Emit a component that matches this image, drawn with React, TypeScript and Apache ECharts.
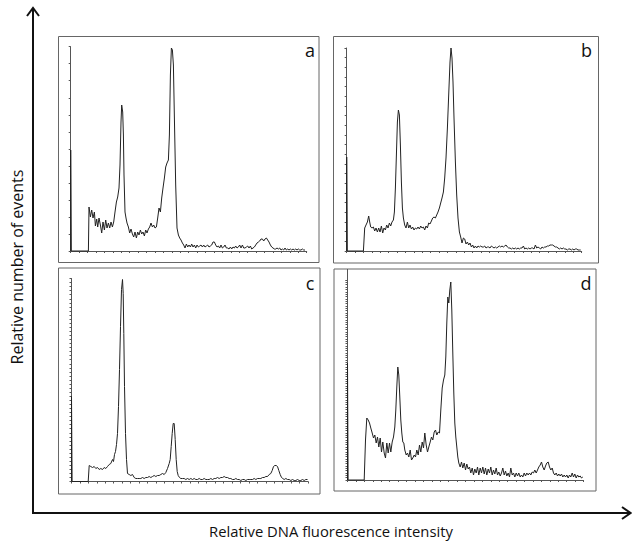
import React, { useEffect, useRef } from "react";
import * as echarts from "echarts";

// Histogram data: [channel, relative count]
const panelA: number[][] = [
  [0, 0], [0, 101], [0.6, 0], [17.7, 0], [18.3, 44], [19.7, 34], [21, 41], [22.3, 33], [23.7, 39], [24.7, 25], [26, 32], [27, 24],
  [28.3, 33], [29.7, 26], [31, 18], [32.3, 29], [33.7, 21], [35, 31], [36.3, 23], [37.7, 28], [39, 23], [40.3, 29],
  [41.7, 24], [43, 29], [44.3, 39], [45.7, 49], [47, 54], [48.3, 63], [49.3, 86], [50.3, 129], [51, 146], [52, 139],
  [52.7, 116], [53.3, 76], [54.3, 39], [55.3, 33], [56.3, 28], [57.7, 24], [59, 18], [60.3, 22], [61.7, 17], [63, 14],
  [64.3, 19], [65.7, 13], [67, 19], [68.3, 16], [69.7, 21], [71, 17], [72.3, 19], [73.7, 15], [75, 21], [76.3, 18],
  [77.7, 22], [79, 24], [80.3, 28], [81.7, 24], [83, 26], [84.3, 23], [85.7, 24], [87, 33], [88.3, 43], [89.7, 39],
  [91, 53], [92.3, 63], [93.7, 73], [95, 84], [96.3, 88], [97.7, 91], [98.7, 116], [99.7, 176], [100.7, 203], [101.7, 201],
  [102.7, 186], [103.7, 133], [105, 66], [106.3, 23], [107.7, 16], [109, 13], [110.3, 11], [111.7, 8], [113, 6], [114.3, 3],
  [115.7, 7], [117, 4], [118.3, 6], [119.7, 4], [121, 7], [122.3, 4], [123.7, 6], [125, 3], [126.3, 6], [127.7, 4],
  [129, 5], [130.3, 6], [131.7, 4], [133, 6], [134.3, 4], [135.7, 5], [137, 6], [138.3, 4], [139.7, 5], [141, 6],
  [142.3, 9], [143.7, 9], [145, 6], [146.3, 4], [147.7, 5], [149, 3], [150.3, 6], [151.7, 3], [153, 4], [154.3, 6],
  [155.7, 3], [157, 3], [158.3, 2], [159.7, 4], [161, 2], [162.3, 4], [163.7, 3], [165, 5], [166.3, 3], [167.7, 4],
  [169, 6], [170.3, 3], [171.7, 6], [173, 3], [174.3, 3], [175.7, 4], [177, 5], [178.3, 3], [179.7, 5], [181, 2],
  [182.3, 3], [183.7, 4], [185, 6], [186.3, 8], [187.7, 9], [189, 10], [190.3, 12], [191.7, 12], [193, 10], [194.3, 12],
  [195.7, 13], [197, 11], [198.3, 9], [199.7, 6], [201, 4], [202.3, 3], [203.7, 2], [205, 2], [206.3, 3], [207.7, 2],
  [209, 3], [210.3, 1], [211.7, 2], [213, 1], [214.3, 3], [215.7, 1], [217, 2], [218.3, 1], [219.7, 2], [221, 1],
  [222.3, 2], [223.7, 1], [225, 2], [226.3, 1], [227.7, 2], [229, 1], [230.3, 1], [231.7, 2], [233, 1], [234.3, 1],
];

const panelB: number[][] = [
  [0, 0], [0, 94], [0.6, 0], [16.7, 0], [18, 23], [19.3, 26], [20.7, 29], [22, 35], [23, 29], [24, 24], [25.3, 23],
  [26.7, 24], [28, 20], [29.3, 23], [30.7, 19], [32, 23], [33.3, 19], [34.7, 25], [36, 18], [37.3, 23], [38.7, 21],
  [40, 26], [41.3, 23], [42.7, 28], [44, 25], [45.3, 29], [46.7, 31], [47.7, 39], [48.7, 63], [49.7, 96], [50.7, 129],
  [51.7, 141], [52.7, 136], [53.7, 106], [54.7, 69], [55.7, 43], [56.7, 33], [58, 26], [59.3, 23], [60.7, 29], [62, 23],
  [63.3, 26], [64.7, 22], [66, 24], [67.3, 21], [68.7, 23], [70, 22], [71.3, 24], [72.7, 22], [74, 25], [75.3, 23],
  [76.7, 24], [78, 21], [79.3, 25], [80.7, 23], [82, 28], [83.3, 27], [84.7, 30], [86, 33], [87.3, 34], [88.7, 33],
  [90, 36], [91.3, 39], [92.7, 43], [94, 48], [95.3, 53], [96.7, 59], [98, 73], [99.3, 93], [100.7, 123], [102, 156],
  [103.3, 189], [104.3, 203], [105.3, 193], [106.3, 169], [107.3, 133], [108.7, 89], [110, 56], [111.3, 33], [112.7, 19],
  [114, 14], [115.3, 8], [116.7, 13], [118, 12], [119.3, 7], [120.7, 9], [122, 6], [123.3, 8], [124.7, 4], [126, 6],
  [127.3, 3], [128.7, 5], [130, 3], [131.3, 5], [132.7, 4], [134, 5], [135.3, 4], [136.7, 4], [138, 5], [139.3, 3],
  [140.7, 4], [142, 4], [143.3, 3], [144.7, 5], [146, 4], [147.3, 3], [148.7, 4], [150, 3], [151.3, 4], [152.7, 5],
  [154, 4], [155.3, 5], [156.7, 4], [158, 5], [159.3, 6], [160.7, 4], [162, 3], [163.3, 3], [164.7, 2], [166, 3],
  [167.3, 2], [168.7, 3], [170, 2], [171.3, 3], [172.7, 2], [174, 3], [175.3, 3], [176.7, 5], [178, 2], [179.3, 3],
  [180.7, 2], [182, 3], [183.3, 2], [184.7, 3], [186, 3], [187.3, 2], [188.7, 6], [190, 3], [191.3, 4], [192.7, 3],
  [194, 2], [195.3, 4], [196.7, 3], [198, 4], [199.3, 4], [200.7, 5], [202, 5], [203.3, 6], [204.7, 6], [206, 6],
  [207.3, 5], [208.7, 4], [210, 4], [211.3, 3], [212.7, 2], [214, 3], [215.3, 2], [216.7, 3], [218, 2], [219.3, 2],
  [220.7, 1], [222, 2], [223.3, 2], [224.7, 1], [226, 2], [227.3, 1], [228.7, 2], [230, 2], [231.3, 1], [232.7, 1], [234, 1],
];

const panelC: number[][] = [
  [0, 0], [0, 85], [0.6, 0], [16.7, 0], [17.7, 16], [19.3, 15], [21, 14], [22.7, 15], [24.3, 13], [26, 14], [27.7, 12],
  [29.3, 13], [31, 12], [32.7, 14], [34.3, 13], [36, 15], [37.7, 17], [39.3, 18], [41, 22], [42, 20], [43, 27], [44, 30],
  [45, 37], [46, 48], [47, 75], [48, 112], [49, 155], [50, 192], [51, 202], [51.7, 188], [52.3, 148], [53, 95], [54, 48],
  [55, 22], [56, 8], [57.7, 7], [59.3, 6], [61, 7], [62.7, 4], [64.3, 3], [66, 3], [67.7, 3], [69.3, 3], [71, 4],
  [72.7, 3], [74.3, 4], [76, 4], [77.7, 5], [79.3, 4], [81, 5], [82.7, 6], [84.3, 5], [86, 6], [87.7, 6], [89.3, 7],
  [91, 8], [92.7, 7], [94.3, 9], [96, 13], [97.7, 18], [98.7, 22], [99.7, 35], [100.7, 48], [101.7, 58], [102.7, 58],
  [103.7, 42], [104.7, 22], [105.7, 10], [106.7, 6], [108, 4], [109.3, 3], [111, 3], [112.7, 3], [114.3, 2], [116, 3],
  [117.7, 2], [119.3, 3], [121, 2], [122.7, 3], [124.3, 2], [126, 2], [127.7, 3], [129.3, 2], [131, 2], [132.7, 3],
  [134.3, 2], [136, 2], [137.7, 2], [139.3, 3], [141, 2], [142.7, 3], [144.3, 3], [146, 4], [147.7, 3], [149.3, 4],
  [151, 4], [152.7, 5], [154.3, 4], [156, 4], [157.7, 3], [159.3, 3], [161, 2], [162.7, 2], [164.3, 3], [166, 2],
  [167.7, 2], [169.3, 1], [171, 2], [172.7, 2], [174.3, 1], [176, 2], [177.7, 2], [179.3, 2], [181, 2], [182.7, 3],
  [184.3, 2], [186, 3], [187.7, 3], [189.3, 3], [191, 4], [192.7, 4], [194.3, 5], [196, 5], [197.7, 7], [199.3, 8],
  [200.7, 11], [202, 15], [203.3, 16], [204.7, 16], [206, 15], [207.3, 11], [208.7, 7], [210, 4], [211.3, 3], [212.7, 2],
  [214.3, 3], [216, 2], [217.7, 2], [219.3, 1], [221, 2], [222.7, 1], [224.3, 1], [226, 2], [227.7, 1], [229.3, 1],
  [231, 2], [232.7, 1], [234.3, 2], [236, 2],
];

const panelD: number[][] = [
  [0, 0], [0, 117], [0.6, 0], [16.7, 0], [18, 40], [19.3, 62], [20.7, 60], [22, 57], [23.3, 52], [24.7, 47], [26, 42],
  [27.3, 45], [28.7, 37], [30, 43], [31.3, 33], [32.7, 42], [34, 28], [35.3, 38], [36.7, 27], [38, 22], [39.3, 37],
  [40.7, 27], [42, 37], [43.3, 28], [44.7, 38], [46, 43], [47.3, 53], [48.3, 70], [49.3, 93], [50.3, 113], [51.3, 105],
  [52.3, 83], [53.3, 60], [54.3, 47], [55.3, 38], [56.3, 37], [57.3, 30], [58.7, 25], [60, 27], [61.3, 23], [62.7, 30],
  [64, 20], [65.3, 22], [66.7, 25], [68, 23], [69.3, 30], [70.7, 25], [72, 35], [73.3, 28], [74.7, 38], [76, 32],
  [77.3, 47], [78.7, 35], [80, 28], [81.3, 33], [82.7, 38], [84, 43], [85.3, 40], [86.7, 48], [88, 50], [89.3, 45],
  [90.7, 48], [92, 47], [93.3, 70], [94.7, 92], [96, 100], [97.3, 105], [98.3, 123], [99.3, 157], [100.3, 183], [101.3, 177],
  [102.3, 190], [103.3, 198], [104.3, 170], [105.3, 127], [106.3, 87], [107.3, 57], [108.3, 43], [109.3, 33], [110.3, 23],
  [111.3, 17], [112.7, 13], [114, 18], [115.3, 12], [116.7, 17], [118, 10], [119.3, 16], [120.7, 11], [122, 13], [123.3, 7],
  [124.7, 12], [126, 5], [127.3, 11], [128.7, 7], [130, 13], [131.3, 5], [132.7, 12], [134, 7], [135.3, 13], [136.7, 6],
  [138, 12], [139.3, 5], [140.7, 11], [142, 7], [143.3, 13], [144.7, 5], [146, 10], [147.3, 6], [148.7, 12], [150, 5],
  [151.3, 8], [152.7, 4], [154, 7], [155.3, 12], [156.7, 5], [158, 9], [159.3, 4], [160.7, 7], [162, 3], [163.3, 12],
  [164.7, 5], [166, 7], [167.3, 3], [168.7, 7], [170, 4], [171.3, 7], [172.7, 3], [174, 5], [175.3, 3], [176.7, 7],
  [178, 4], [179.3, 7], [180.7, 5], [182, 7], [183.3, 5], [184.7, 8], [186, 7], [187.3, 10], [188.7, 7], [190, 10],
  [191.3, 13], [192.7, 15], [194, 18], [195.3, 13], [196.7, 10], [198, 14], [199.3, 17], [200.7, 18], [202, 13], [203.3, 10],
  [204.7, 12], [206, 7], [207.3, 5], [208.7, 7], [210, 4], [211.3, 6], [212.7, 4], [214, 6], [215.3, 3], [216.7, 5],
  [218, 3], [219.3, 5], [220.7, 2], [222, 5], [223.3, 3], [224.7, 7], [226, 3], [227.3, 6], [228.7, 2], [230, 5],
  [231.3, 3], [232.7, 4], [234, 2], [235.3, 3],
];

const panelLabels = ["a", "b", "c", "d"];
const yAxisTitle = "Relative number of events";
const xAxisTitle = "Relative DNA fluorescence intensity";

// Layout (pixels)
const PLOTS = [
  { left: 70.7, top: 46.7, width: 236, height: 204.3, xMax: 236, yMax: 204.3, xTicks: 28, yTicks: 12 },
  { left: 346.7, top: 48, width: 235, height: 203, xMax: 235, yMax: 203, xTicks: 28, yTicks: 21 },
  { left: 71.5, top: 278.5, width: 236.5, height: 203, xMax: 236.5, yMax: 203, xTicks: 28, yTicks: 50 },
  { left: 347.5, top: 280, width: 236, height: 200, xMax: 236, yMax: 200, xTicks: 28, yTicks: 85 },
];
const BOXES = [
  { x: 58.5, y: 36.5, w: 260.5, h: 226 },
  { x: 333.5, y: 36.5, w: 265, h: 226.5 },
  { x: 58.5, y: 268, w: 261.5, h: 226 },
  { x: 334, y: 269, w: 262, h: 222 },
];
const LABEL_POS = [
  [310, 50], [586.5, 50], [310, 283], [586, 283],
];

export default function App() {
  const ref = useRef<HTMLDivElement>(null);
  useEffect(() => {
    document.body.style.margin = "0";
    if (!ref.current) return;
    const chart = echarts.init(ref.current, undefined, { renderer: "svg" });
    const datasets = [panelA, panelB, panelC, panelD];
    const axisColor = "#555";
    const option: any = {
      animation: false,
      backgroundColor: "#fff",
      grid: PLOTS.map((p) => ({ left: p.left, top: p.top, width: p.width, height: p.height, containLabel: false })),
      xAxis: PLOTS.map((p, i) => ({
        gridIndex: i,
        type: "value",
        min: 0,
        max: p.xMax,
        interval: p.xMax / p.xTicks,
        axisLine: { show: true, onZero: false, lineStyle: { color: axisColor, width: 1 } },
        axisTick: { show: true, length: 2, lineStyle: { color: axisColor, width: 1 } },
        axisLabel: { show: false },
        splitLine: { show: false },
      })),
      yAxis: PLOTS.map((p, i) => ({
        gridIndex: i,
        type: "value",
        min: 0,
        max: p.yMax,
        interval: p.yMax / p.yTicks,
        axisLine: { show: true, onZero: false, lineStyle: { color: axisColor, width: 1 } },
        axisTick: { show: true, length: 2, lineStyle: { color: axisColor, width: 1 } },
        axisLabel: { show: false },
        splitLine: { show: false },
      })),
      series: datasets.map((d, i) => ({
        type: "line",
        xAxisIndex: i,
        yAxisIndex: i,
        data: d,
        showSymbol: false,
        symbol: "none",
        lineStyle: { color: "#222", width: 1 },
        clip: false,
      })),
      graphic: [
        ...BOXES.map((b) => ({
          type: "rect",
          shape: { x: b.x, y: b.y, width: b.w, height: b.h },
          style: { fill: "none", stroke: "#666", lineWidth: 1 },
          silent: true,
        })),
        {
          type: "line",
          shape: { x1: 347.5, y1: 269, x2: 347.5, y2: 282 },
          style: { stroke: axisColor, lineWidth: 1 },
        },
        ...panelLabels.map((t, i) => ({
          type: "text",
          x: LABEL_POS[i][0],
          y: LABEL_POS[i][1],
          style: {
            text: t,
            fontSize: 18,
            fontFamily: "Open Sans, sans-serif",
            fill: "#111",
            textAlign: "center",
            textVerticalAlign: "middle",
          },
        })),
        // Big axes
        { type: "line", shape: { x1: 33, y1: 8, x2: 33, y2: 513 }, style: { stroke: "#111", lineWidth: 2 } },
        { type: "line", shape: { x1: 32, y1: 513, x2: 630, y2: 513 }, style: { stroke: "#111", lineWidth: 2 } },
        { type: "polyline", shape: { points: [[27, 16], [33, 8], [39, 16]] }, style: { stroke: "#111", lineWidth: 2, fill: "none" } },
        { type: "polyline", shape: { points: [[622, 507], [630.5, 513], [622, 519]] }, style: { stroke: "#111", lineWidth: 2, fill: "none" } },
        {
          type: "text",
          x: 17,
          y: 267,
          rotation: Math.PI / 2,
          style: {
            text: yAxisTitle,
            fontSize: 16,
            fontFamily: "Open Sans, sans-serif",
            fill: "#111",
            textAlign: "center",
            textVerticalAlign: "middle",
          },
        },
        {
          type: "text",
          x: 331,
          y: 531,
          style: {
            text: xAxisTitle,
            fontSize: 14.8,
            fontFamily: "Open Sans, sans-serif",
            fill: "#111",
            textAlign: "center",
            textVerticalAlign: "middle",
          },
        },
      ],
    };
    chart.setOption(option);
    return () => chart.dispose();
  }, []);
  return <div ref={ref} style={{ width: 632, height: 545 }} />;
}
